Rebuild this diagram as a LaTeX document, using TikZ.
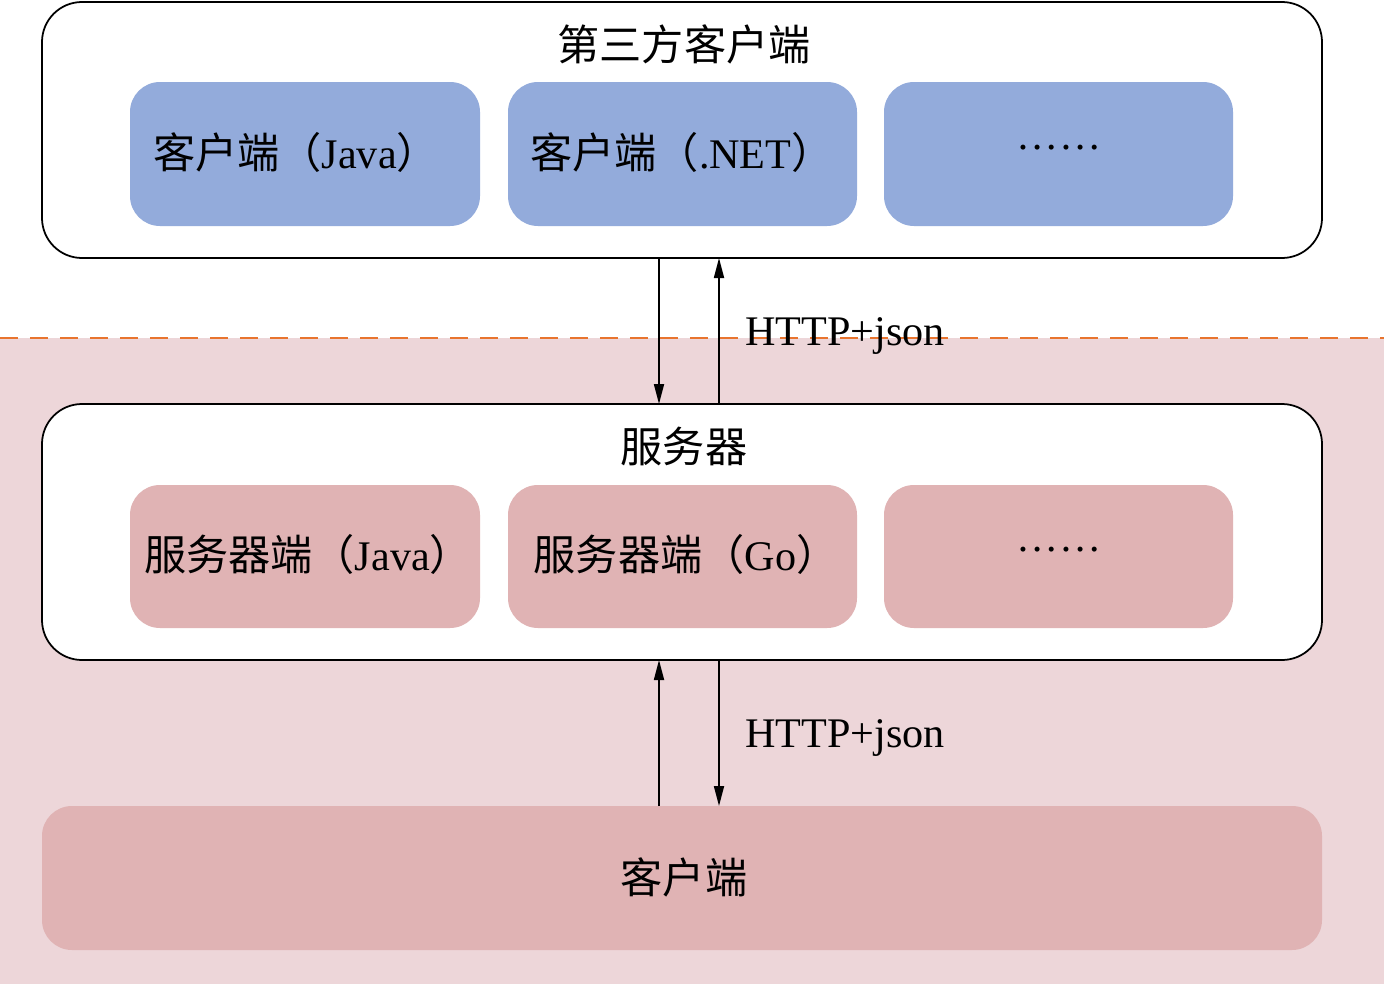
\documentclass[tikz,border=0pt]{standalone}
\usepackage{fontspec}
\setmainfont{Liberation Serif}
\newfontfamily\cjk{Noto Sans CJK SC}
\usetikzlibrary{arrows.meta}
\definecolor{bgpink}{HTML}{EDD6D9}
\definecolor{bluebox}{HTML}{93ABDB}
\definecolor{pinkbox}{HTML}{E0B3B4}
\definecolor{dashorange}{HTML}{E8742E}
\begin{document}
\begin{tikzpicture}[x=0.05cm,y=-0.05cm,
  txt/.style={font=\fontsize{60}{70}\selectfont,inner sep=0},
  outer/.style={draw=black,line width=2.5pt,fill=white,rounded corners=40*0.05cm},
  inner/.style={rounded corners=30*0.05cm},
  arr/.style={line width=2.5pt,-{Triangle[length=1cm,width=0.5cm]}}]
\useasboundingbox (0,0) rectangle (1384,984);
\fill[bgpink] (0,338) rectangle (1384,984);
\draw[dashorange,line width=2.5pt,dash pattern=on 0.9cm off 0.6cm] (0,338) -- (1384,338);
% top
\draw[outer] (42,2) rectangle (1322,258);
\node[txt] (t1) at (684,44) {\cjk 第三方客户端};
\fill[bluebox,inner] (130,82) rectangle (480,226);
\fill[bluebox,inner] (508,82) rectangle (857,226);
\fill[bluebox,inner] (884,82) rectangle (1233,226);
\node[txt] (b1) at (296,152) {{\cjk 客户端（}Java{\cjk ）}};
\node[txt] (b2) at (682,152) {{\cjk 客户端（}.NET{\cjk ）}};
\node[txt] (b3) at (1059,148) {……};
% middle
\draw[outer] (42,404) rectangle (1322,660);
\node[txt] (t2) at (684,446) {\cjk 服务器};
\fill[pinkbox,inner] (130,485) rectangle (480,628);
\fill[pinkbox,inner] (508,485) rectangle (857,628);
\fill[pinkbox,inner] (884,485) rectangle (1233,628);
\node[txt] (s1) at (308,554) {{\cjk 服务器端（}Java{\cjk ）}};
\node[txt] (s2) at (686,554) {{\cjk 服务器端（}Go{\cjk ）}};
\node[txt] (s3) at (1059,550) {……};
% bottom
\fill[pinkbox,inner] (42,806) rectangle (1322,950);
\node[txt] (c) at (684,877) {\cjk 客户端};
% arrows
\coordinate (a1) at (659,258); \coordinate (a2) at (659,404);
\coordinate (a3) at (719,404); \coordinate (a4) at (719,258);
\coordinate (a5) at (659,806); \coordinate (a6) at (659,660);
\coordinate (a7) at (719,660); \coordinate (a8) at (719,806);
\draw[arr] (a1) -- (a2);
\draw[arr] (a3) -- (a4);
\draw[arr] (a5) -- (a6);
\draw[arr] (a7) -- (a8);
\node[txt,anchor=west] (h1) at (745,336) {HTTP+json};
\node[txt,anchor=west] (h2) at (745,738) {HTTP+json};
\end{tikzpicture}
\end{document}
